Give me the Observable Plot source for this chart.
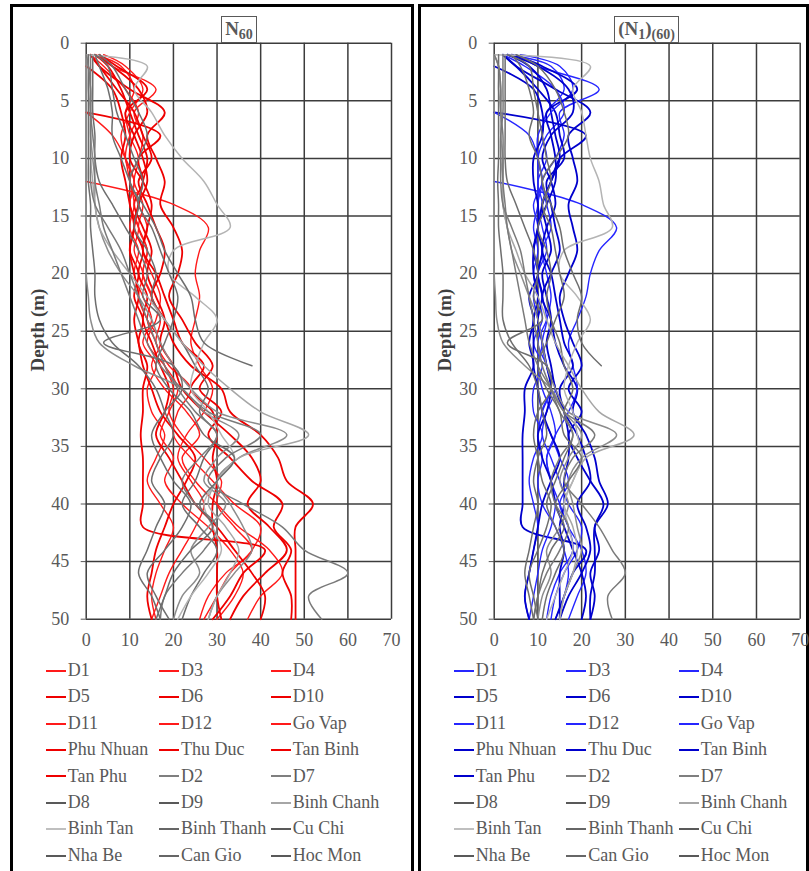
<!DOCTYPE html>
<html>
<head>
<meta charset="utf-8">
<script src="https://cdn.jsdelivr.net/npm/d3@7"></script>
<script src="https://cdn.jsdelivr.net/npm/@observablehq/plot@0.6"></script>
<style>
  body { margin: 0; background: #fff; width: 809px; height: 871px; overflow: hidden; position: relative;
         font-family: "Liberation Serif", "Times New Roman", serif; }
  .frame { position: absolute; top: 4px; height: 880px; border: 3px solid #000; box-sizing: border-box; }
  .chart { position: absolute; top: 0; }
  .title { position: absolute; top: 16px; height: 27px; box-sizing: border-box; border: 1.5px solid #595959;
           background: #fff; color: #595959; font-weight: bold; font-size: 19px; line-height: 23px;
           text-align: center; white-space: nowrap; }
  .title sub { font-size: 14px; vertical-align: -4px; }
  .ylab { position: absolute; font-weight: bold; font-size: 19px; color: #404040; white-space: nowrap;
          transform: translate(-50%, -50%) rotate(-90deg); }
  .item { position: absolute; font-size: 18px; color: #595959; line-height: 20px; white-space: nowrap;
          transform: translateY(-50%); }
  .item i { display: inline-block; width: 20px; height: 0; border-top: 2px solid; vertical-align: middle;
            margin-right: 2px; position: relative; top: -1px; }
</style>
</head>
<body>
<script>
// Depth of each reading (m)
const depths = [1, 2, 4, 6, 8, 10, 12, 14, 16, 18, 20, 22, 24, 26, 28, 30, 32, 34, 36, 38, 40, 42, 44, 46, 48, 50];

const districts = ["D1", "D3", "D4", "D5", "D6", "D10", "D11", "D12", "Go Vap", "Phu Nhuan", "Thu Duc", "Tan Binh",
  "Tan Phu", "D2", "D7", "D8", "D9", "Binh Chanh", "Binh Tan", "Binh Thanh", "Cu Chi", "Nha Be", "Can Gio", "Hoc Mon"];

const xTicks = [0, 10, 20, 30, 40, 50, 60, 70];
const yTicks = [0, 5, 10, 15, 20, 25, 30, 35, 40, 45, 50];

// N60 profiles, one row per district (same order as districts), null = no reading
const n60 = [
  [2, 8, 11, 9, 10, 12, 11, 13, 12, 14, 13, 15, 17, 16, 19, 24, 21, 20, 24, 29, 34, 40, 38, 33, 30, 27],
  [1, 4, 9, 12, 10, 9, 11, 10, 12, 11, 13, 12, 14, 17, 15, 18, 23, 26, 22, 25, 30, 35, 42, 45, 40, 37],
  [3, 6, 16, 11, 13, 12, 10, 12, 14, 13, 15, 17, 16, 14, 18, 21, 19, 17, 20, 18, 22, 28, 33, 36, 34, 30],
  [2, 5, 8, 10, 12, 14, 13, 12, 11, 10, 12, 11, 13, 12, 14, 13, 13, 12.5, 13, 13, 13, 13, 41, 36, 33, 29],
  [1, 3, 7, 11, 13, 15, 12, 14, 16, 18, 17, 15, 18, 20, 24, 31, 33, 40, 44, 46, 52, 48, 48, 48, 48, 48],
  [null, null, null, 0, 17, 12, 13, 11, 13, 15, 14, 16, 18, 17, 20, 22, 27, 33, 38, 40, 37, 42, 46, 41, 36, 33],
  [null, null, null, 0, 6, 9, 11, 10, 12, 14, 13, 15, 14, 16, 18, 20, 19, 22, 27, 31, 30, 34, 38, 32, 28, 26],
  [null, null, null, null, null, null, 0, 20, 28, 26, 25, 26, 25, 24, 26, 29, 27, 23, 21, 24, 27, 25, 22, 19, 17, 15],
  [4, 9, 13, 10, 8, 9, 10, 11, 10, 12, 11, 13, 15, 13, 16, 14, 15, 18, 16, 14, 17, 20, 18, 16, 15, 16],
  [2, 6, 12, 14, 11, 10, 13, 15, 14, 13, 16, 18, 20, 22, 27, 24, 29, 30, 29, 30, 29, 29, 30, 30, 30, 31],
  [1, 3, 10, 18, 14, 16, 18, 17, 20, 22, 21, 19, 22, 25, 29, 26, 31, 28, 33, 38, 45, 43, 47, 45, 47, 47],
  [3, 7, 14, 9, 11, 13, 14, 12, 11, 13, 12, 14, 13, 15, 17, 19, 18, 16, 19, 22, 25, 30, 34, 38, 41, 40],
  [null, 0, 6, 8, 9, 8, 9, 10, 11, 10, 11, 12, 11, 12, 13, 15, 17, 21, 25, 23, 20, 18, 16, 15, 14, 15],
  [0, 0.5, 1, 1, 1, 1.5, 2, 2, 3, 5, 8, 12, 15, 17, 20, 24, 30, 46, 35, 30, 33, 36, 38, 34, 30, 28],
  [0, 0, 0, 0, 0, 0, 0, 0, 0, 0, 0, 0.5, 1, 3, 11, 22, 27, 35, 30, 27, 32, 28, 24, 26, 22, 20],
  [1.5, 1.5, 1.5, 1.5, 2, 2, 3, 6, 9, 12, 14, 13, 17, 4, 20, 22, 18, 15, 17, 20, 24, 22, 18, 14, 16, 19],
  [2, 3, 5, 6, 6, 8, 10, 12, 11, 14, 16, 15, 18, 22, 25, 28, 26, 30, 27, 25, 22, 26, 30, 27, 24, 22],
  [0, 0.5, 0.5, 1, 1, 1, 1.5, 2, 3, 6, 10, 14, 18, 22, 27, 33, 40, 51, 35, 30, 28, 32, 35, 33, 30, 28],
  [0, 14, 11, 15, 18, 22, 27, 30, 33, 20, 19, 25, 30, 27, 25, 24, 28, 31, 34, 30, 27, 29, 31, 28, 24, 21],
  [1, 1, 1, 1, 1, 1, 1, 2, 5, 8, 10, 12, 14, 16, 18, 21, 25, 30, 26, 22, 25, 30, 27, 22, 18, 17],
  [3, 6, 9, 12, 14, 12, 10, 13, 16, 18, 21, 24, 25, 27, 38, null, null, null, null, null, null, null, null, null, null, null],
  [0.5, 0.5, 0.5, 0.5, 0.5, 0.5, 0.5, 1, 1, 1.5, 2, 2, 3, 6, 12, 16, 18, 20, 17, 15, 18, 16, 14, 12, 15, 17],
  [0, 0.5, 1, 1, 1.5, 2, 2, 3, 4, 6, 8, 10, 12, 14, 17, 22, 28, 40, 32, 28, 36, 45, 50, 60, 51, 54],
  [2, 5, 6, 7, 9, 11, 13, 12, 15, 17, 19, 21, 20, 18, 16, 19, 24, 27, 34, 30, 26, 29, 24, 20, 18, 16]
];

// (N1)60 profiles, same layout
const n160 = [
  [3, 13, 16, 12, 11, 12, 10, 11, 10, 11, 10, 11, 12, 11, 12, 14, 12, 11, 13, 15, 17, 20, 19, 16, 14, 13],
  [2, 7, 14, 16, 12, 10, 11, 9, 10, 9, 10, 9, 10, 11, 10, 11, 13, 14, 12, 13, 15, 17, 20, 21, 19, 17],
  [5, 10, 24, 15, 16, 14, 11, 12, 13, 11, 12, 13, 12, 10, 12, 13, 11, 10, 11, 10, 11, 14, 16, 17, 16, 14],
  [3, 8, 12, 13, 14, 15, 13, 11, 10, 9, 10, 8, 9, 8, 9, 7, 7, 6.5, 6.5, 6.5, 6.5, 6.5, 21, 18, 16, 14],
  [2, 5, 10, 14, 15, 16, 12, 13, 14, 15, 13, 11, 13, 14, 16, 19, 18, 21, 23, 24, 26, 23, 23, 23, 22, 22],
  [null, null, null, 0, 21, 15, 13, 11, 12, 13, 11, 12, 13, 12, 13, 14, 16, 19, 21, 22, 19, 21, 22, 20, 17, 15],
  [null, null, null, 0, 8, 10, 11, 10, 11, 12, 10, 11, 10, 11, 12, 13, 11, 13, 15, 17, 15, 17, 18, 15, 13, 12],
  [null, null, null, null, null, null, 0, 20, 28, 24, 22, 21, 19, 17, 18, 19, 17, 14, 12, 13, 14, 13, 11, 10, 9, 8],
  [6, 15, 18, 13, 10, 10, 10, 10, 9, 10, 9, 10, 11, 9, 11, 9, 9, 11, 9, 8, 9, 10, 9, 8, 7, 8],
  [3, 10, 17, 18, 13, 11, 13, 14, 12, 11, 13, 14, 15, 16, 18, 15, 16, 17, 17, 16, 16, 15, 16, 15, 15, 15],
  [2, 5, 14, 22, 17, 18, 19, 17, 18, 19, 17, 15, 16, 18, 20, 17, 20, 17, 19, 22, 25, 23, 24, 22, 23, 22],
  [4, 11, 19, 12, 13, 14, 14, 12, 10, 11, 10, 11, 10, 11, 12, 13, 12, 10, 11, 13, 14, 16, 18, 20, 21, 20],
  [null, 0, 9, 11, 11, 9, 9, 10, 10, 9, 9, 10, 9, 9, 9, 10, 11, 13, 15, 13, 11, 10, 9, 8, 7, 8],
  [0, 1, 1.5, 1.5, 1.5, 2, 2, 2, 3, 4, 6, 8, 10, 11, 12, 14, 17, 28, 20, 17, 18, 19, 20, 18, 16, 15],
  [0, 0, 0, 0, 0, 0, 0, 0, 0, 0, 0, 0.3, 0.6, 2, 7, 13, 16, 20, 17, 15, 17, 15, 12, 13, 11, 10],
  [2.5, 2.5, 2.5, 2.5, 2.5, 2.5, 3, 5, 7, 9, 10, 9, 11, 3, 12, 13, 10, 9, 10, 11, 13, 12, 10, 8, 9, 10],
  [4, 6, 8, 9, 8, 10, 11, 12, 10, 12, 13, 12, 13, 15, 16, 18, 16, 18, 16, 14, 12, 14, 16, 14, 12, 11],
  [0, 1, 1, 1.5, 1.5, 1.5, 2, 2, 3, 5, 7, 10, 12, 14, 17, 20, 24, 32, 21, 18, 16, 18, 19, 18, 16, 15],
  [0, 22, 18, 20, 21, 22, 24, 25, 27, 16, 15, 19, 22, 19, 17, 16, 18, 19, 20, 18, 16, 17, 18, 16, 14, 12],
  [2, 2, 2, 2, 1.5, 1.5, 1.5, 2, 4, 6, 7, 8, 9, 10, 11, 13, 15, 18, 15, 13, 14, 17, 15, 12, 10, 9],
  [5, 10, 14, 16, 17, 14, 11, 13, 15, 16, 18, 20, 19, 20, 24.5, null, null, null, null, null, null, null, null, null, null, null],
  [1, 1, 1, 1, 1, 1, 0.8, 1, 1, 1.5, 2, 2, 2, 4, 8, 10, 11, 12, 10, 9, 10, 9, 8, 7, 8, 9],
  [0, 1, 1.5, 1.5, 2, 2, 2, 2.5, 3, 4, 5, 6, 7, 8, 10, 13, 16, 23, 18, 16, 20, 24, 27, 30, 26, 27],
  [3, 8, 9, 10, 11, 12, 13, 11, 13, 14, 15, 16, 14, 12, 10, 12, 15, 16, 20, 17, 14, 16, 13, 11, 10, 9]
];

// Line styling per district
const bold = new Set(["D5", "D6", "D10", "Phu Nhuan", "Thu Duc", "Tan Binh", "Tan Phu"]);
const greys = {
  "D2": "#8c8c8c", "D7": "#8c8c8c", "D8": "#6e6e6e", "D9": "#6e6e6e", "Binh Chanh": "#a6a6a6",
  "Binh Tan": "#b4b4b4", "Binh Thanh": "#7a7a7a", "Cu Chi": "#6e6e6e", "Nha Be": "#6e6e6e",
  "Can Gio": "#7a7a7a", "Hoc Mon": "#6e6e6e"
};
const legendGreys = {
  "D2": "#7f7f7f", "D7": "#7f7f7f", "D8": "#595959", "D9": "#595959", "Binh Chanh": "#a6a6a6",
  "Binh Tan": "#bfbfbf", "Binh Thanh": "#666666", "Cu Chi": "#595959", "Nha Be": "#595959",
  "Can Gio": "#666666", "Hoc Mon": "#595959"
};
function styleFor(name, accent, inLegend) {
  if (greys[name]) return {stroke: inLegend ? legendGreys[name] : greys[name], width: 1.5};
  const c = accent === "red"
    ? (bold.has(name) ? "#ee0000" : "#ff1a1a")
    : (bold.has(name) ? "#0000cc" : "#2626ff");
  return {stroke: c, width: bold.has(name) ? 1.8 : 1.4};
}

function drawPanel({values, accent, left, width, x0, x70}) {
  const marks = [
    Plot.ruleX(xTicks, {y1: 0, y2: 50, stroke: "#3c3c3c", strokeWidth: 1.5}),
    Plot.ruleY(yTicks, {x1: 0, x2: 70, stroke: "#3c3c3c", strokeWidth: 1.5})
  ];
  districts.forEach((name, i) => {
    const rows = depths.map((d, j) => ({d, v: values[i][j]})).filter(r => r.v != null);
    const s = styleFor(name, accent, false);
    marks.push(Plot.line(rows, {x: "v", y: "d", stroke: s.stroke, strokeWidth: s.width, curve: "catmull-rom"}));
  });
  const chart = Plot.plot({
    width, height: 660,
    marginLeft: x0 - left, marginRight: width - (x70 - left), marginTop: 42.7, marginBottom: 660 - 618.7,
    x: {domain: [0, 70], ticks: xTicks, tickSize: 0, tickPadding: 14, label: null},
    y: {domain: [0, 50], reverse: true, ticks: yTicks, tickSize: 5, tickPadding: 12, label: null},
    style: {fontFamily: "'Liberation Serif', 'Times New Roman', serif", fontSize: "18px", color: "#595959",
            background: "transparent", overflow: "visible"},
    marks
  });
  chart.classList.add("chart");
  chart.style.left = left + "px";
  document.body.appendChild(chart);
}

function addLegend(accent, swatchX) {
  districts.forEach((name, i) => {
    const row = Math.floor(i / 3), col = i % 3;
    const s = styleFor(name, accent, true);
    const el = document.createElement("div");
    el.className = "item";
    el.style.left = swatchX[col] + "px";
    el.style.top = (670 + row * 26.4) + "px";
    const sw = document.createElement("i");
    sw.style.borderTopColor = s.stroke;
    sw.style.borderTopWidth = (s.width > 1.6 ? 2.5 : 2) + "px";
    el.appendChild(sw);
    el.appendChild(document.createTextNode(name));
    document.body.appendChild(el);
  });
}

function addFrame(left, width) {
  const f = document.createElement("div");
  f.className = "frame";
  f.style.left = left + "px";
  f.style.width = width + "px";
  document.body.appendChild(f);
}

function addHtml(cls, html, css) {
  const el = document.createElement("div");
  el.className = cls;
  el.innerHTML = html;
  Object.assign(el.style, css);
  document.body.appendChild(el);
}

addFrame(10, 404);
addFrame(418, 391);

drawPanel({values: n60, accent: "red", left: 0, width: 412, x0: 85.7, x70: 391});
drawPanel({values: n160, accent: "blue", left: 412, width: 397, x0: 493.7, x70: 799.7});

addHtml("title", "N<sub>60</sub>", {left: "221px", width: "36px"});
addHtml("title", "(N<sub>1</sub>)<sub>(60)</sub>", {left: "614px", width: "65px"});
addHtml("ylab", "Depth (m)", {left: "38px", top: "330px"});
addHtml("ylab", "Depth (m)", {left: "445px", top: "330px"});

addLegend("red", [45.7, 159, 270.7]);
addLegend("blue", [453.7, 566.3, 678.7]);
</script>
</body>
</html>
